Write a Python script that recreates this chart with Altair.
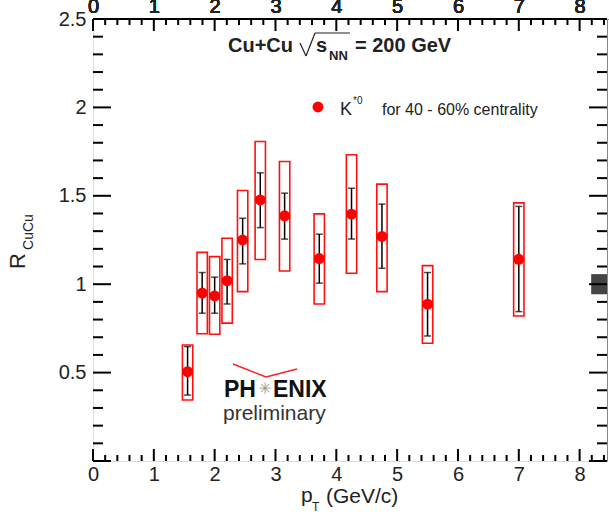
import altair as alt
import pandas as pd
import numpy as np

# ---- data ----
pt = [1.555, 1.795, 2.0, 2.205, 2.46, 2.75, 3.15, 3.72, 4.25, 4.75, 5.5, 7.0]
r_cucu = [0.505, 0.95, 0.934, 1.02, 1.25, 1.477, 1.387, 1.145, 1.396, 1.27, 0.887, 1.141]
stat_hi = [0.647, 1.066, 1.04, 1.14, 1.373, 1.63, 1.515, 1.283, 1.543, 1.453, 1.066, 1.44]
stat_lo = [0.373, 0.836, 0.836, 0.888, 1.115, 1.32, 1.255, 1.006, 1.255, 1.09, 0.707, 0.845]
sys_hi = [0.656, 1.18, 1.156, 1.26, 1.53, 1.807, 1.694, 1.398, 1.732, 1.566, 1.105, 1.46]
sys_lo = [0.345, 0.72, 0.717, 0.78, 0.958, 1.14, 1.075, 0.888, 1.062, 0.958, 0.666, 0.82]
box_half = 0.085
norm_x = [8.19, 8.45]
norm_y = [0.943, 1.057]

x_major = [0, 1, 2, 3, 4, 5, 6, 7, 8]
y_labels = [0.5, 1.0, 1.5, 2.0, 2.5]
y_major_ticks = [0.0, 0.5, 1.0, 1.5, 2.0, 2.5]
X_MAX = 8.45
Y_MAX = 2.5

W, H = 514, 442

df = pd.DataFrame({
    "pt": pt, "r": r_cucu, "shi": stat_hi, "slo": stat_lo,
    "yhi": sys_hi, "ylo": sys_lo,
})
df["x0"] = df["pt"] - box_half
df["x1"] = df["pt"] + box_half

FONT = "Liberation Sans"
xs = alt.Scale(domain=[0, X_MAX], nice=False, zero=False)
ys = alt.Scale(domain=[0, Y_MAX], nice=False, zero=False)
xaxis = alt.Axis(values=x_major, format="d", title=None, ticks=False, domain=False, grid=False,
                 labelFlush=False, labelFontSize=20, labelFont=FONT, labelColor="#222",
                 labelPadding=3)
yaxis = alt.Axis(values=y_labels, format=".1~f", title=None, ticks=False, domain=False,
                 grid=False, labelFlush=False, labelFontSize=20, labelFont=FONT,
                 labelColor="#222", labelPadding=7)


def X(f):
    return alt.X(f, type="quantitative", scale=xs, axis=xaxis)


def Y(f):
    return alt.Y(f, type="quantitative", scale=ys, axis=yaxis)


one = pd.DataFrame({"a": [0]})

# ---- inward frame ticks ----
ymin_vals = [float(round(v, 1)) for v in np.arange(0.1, Y_MAX, 0.1)
             if abs(v * 2 - round(v * 2)) > 1e-6]
ytick = pd.DataFrame({
    "yv": y_major_ticks + ymin_vals,
    "len": [18] * len(y_major_ticks) + [10] * len(ymin_vals),
})
ytick["py"] = H - ytick["yv"] / Y_MAX * H
ytick["y0"] = ytick["py"] - 1.0
ytick["y1"] = ytick["py"] + 1.0
ytick["lx1"] = ytick["len"] * 1.0
ytick["rx0"] = W - ytick["len"] * 1.0
ytick["zero"] = 0.0
ytick["wid"] = float(W)

tick_layers = []
# left and right edge ticks as thin rectangles in pixel space (identity scales)
for xa, xb in [("zero", "lx1"), ("rx0", "wid")]:
    tick_layers.append(alt.Chart(ytick).mark_rect(color="black", opacity=1).encode(
        x=alt.X(xa, type="quantitative", scale=None, axis=None),
        x2=xb,
        y=alt.Y("y0", type="quantitative", scale=None, axis=None),
        y2="y1"))

xmaj = pd.DataFrame({"v": x_major})
xmin = pd.DataFrame({"v": [round(v, 1) for v in np.arange(0.2, X_MAX, 0.2) if abs(v - round(v)) > 1e-6]})
for d, size in [(xmaj, 12), (xmin, 6)]:
    tick_layers.append(alt.Chart(d).mark_rule(color="black", strokeWidth=2).encode(
        x=X("v"), y=alt.value(H), y2=alt.value(H - size)))
    tick_layers.append(alt.Chart(d).mark_rule(color="black", strokeWidth=2).encode(
        x=X("v"), y=alt.value(0), y2=alt.value(size)))

boxes = alt.Chart(df).mark_rect(fillOpacity=0, stroke="#ff1010", strokeWidth=1.6).encode(
    x=X("x0"), x2="x1", y=Y("ylo"), y2="yhi")

hline = alt.Chart(one).mark_rule(color="black", strokeWidth=2).encode(y=alt.datum(1.0))

norm = alt.Chart(pd.DataFrame({"x0": [norm_x[0]], "x1": [norm_x[1]],
                               "y0": [norm_y[0]], "y1": [norm_y[1]]})).mark_rect(
    color="#444444").encode(x=X("x0"), x2="x1", y=Y("y0"), y2="y1")

ebar = alt.Chart(df).mark_rule(color="black", strokeWidth=1.5).encode(
    x=X("pt"), y=Y("slo"), y2="shi")
cap_hi = alt.Chart(df).mark_tick(orient="horizontal", size=7, thickness=1.5, color="black").encode(
    x=X("pt"), y=Y("shi"))
cap_lo = alt.Chart(df).mark_tick(orient="horizontal", size=7, thickness=1.5, color="black").encode(
    x=X("pt"), y=Y("slo"))

points = alt.Chart(df).mark_point(filled=True, shape="circle", size=120, color="#ff0000",
                                  opacity=1).encode(x=X("pt"), y=Y("r"))

OX, OY = 93, 19  # plot origin within the page


def txt(s, x, y, size, bold=False, color="#222", align="left", baseline="alphabetic",
        angle=0, font=FONT):
    kw = dict(text=s, fontSize=size, font=font, color=color, align=align,
              baseline=baseline, fontWeight="bold" if bold else "normal")
    if angle:
        kw["angle"] = angle
    return alt.Chart(one).mark_text(**kw).encode(x=alt.value(x - OX), y=alt.value(y - OY))


def seg(x1, y1, x2, y2, color="#222", w=1.2):
    return alt.Chart(one).mark_rule(color=color, strokeWidth=w).encode(
        x=alt.value(x1 - OX), y=alt.value(y1 - OY), x2=alt.value(x2 - OX), y2=alt.value(y2 - OY))


annotations = [
    # title
    txt("Cu+Cu", 228, 52, 20, bold=True),
    seg(300, 43, 306, 56), seg(306, 56, 315, 33), seg(315, 33, 350, 33),
    txt("s", 316, 52, 20, bold=True),
    txt("NN", 329, 60, 13, bold=True),
    txt("= 200 GeV", 355, 52, 20, bold=True),
    # legend
    txt("K", 340, 115, 18),
    txt("*0", 353, 104, 10),
    txt("for 40 - 60% centrality", 382, 115, 16),
    # PHENIX logo
    seg(233, 364, 266, 377, color="#ff2020", w=1.5),
    seg(266, 377, 297, 369, color="#ff2020", w=1.5),
    txt("PH", 224, 397, 23, bold=True, color="#111"),
    txt("\u2733", 265, 389, 16, color="#999", align="center", baseline="middle",
        font="DejaVu Sans"),
    txt("ENIX", 273, 397, 23, bold=True, color="#111"),
    txt("preliminary", 223, 420, 21, color="#333"),
    # axis titles
    txt("p", 301, 502, 21),
    txt("T", 312, 511, 12),
    txt("(GeV/c)", 326, 503, 21),
    txt("R", 18, 261, 22, align="center", baseline="middle", angle=270),
    txt("CuCu", 29, 232, 14, align="center", baseline="middle", angle=270),
]

legend_dot = alt.Chart(one).mark_point(filled=True, shape="circle", size=120, color="#ff0000",
                                       opacity=1).encode(x=alt.value(318 - OX), y=alt.value(107 - OY))

chart = alt.layer(
    boxes, hline, norm, ebar, cap_hi, cap_lo, points, legend_dot, *annotations, *tick_layers
).properties(
    width=W, height=H,
    autosize=alt.AutoSizeParams(type="none"),
    padding={"left": OX, "top": OY, "right": 2, "bottom": 54},
).resolve_scale(x="independent", y="independent").configure_view(
    stroke="black", strokeWidth=2).configure(background="white")

chart.save("out.html", embed_options={"renderer": "svg", "actions": False})
